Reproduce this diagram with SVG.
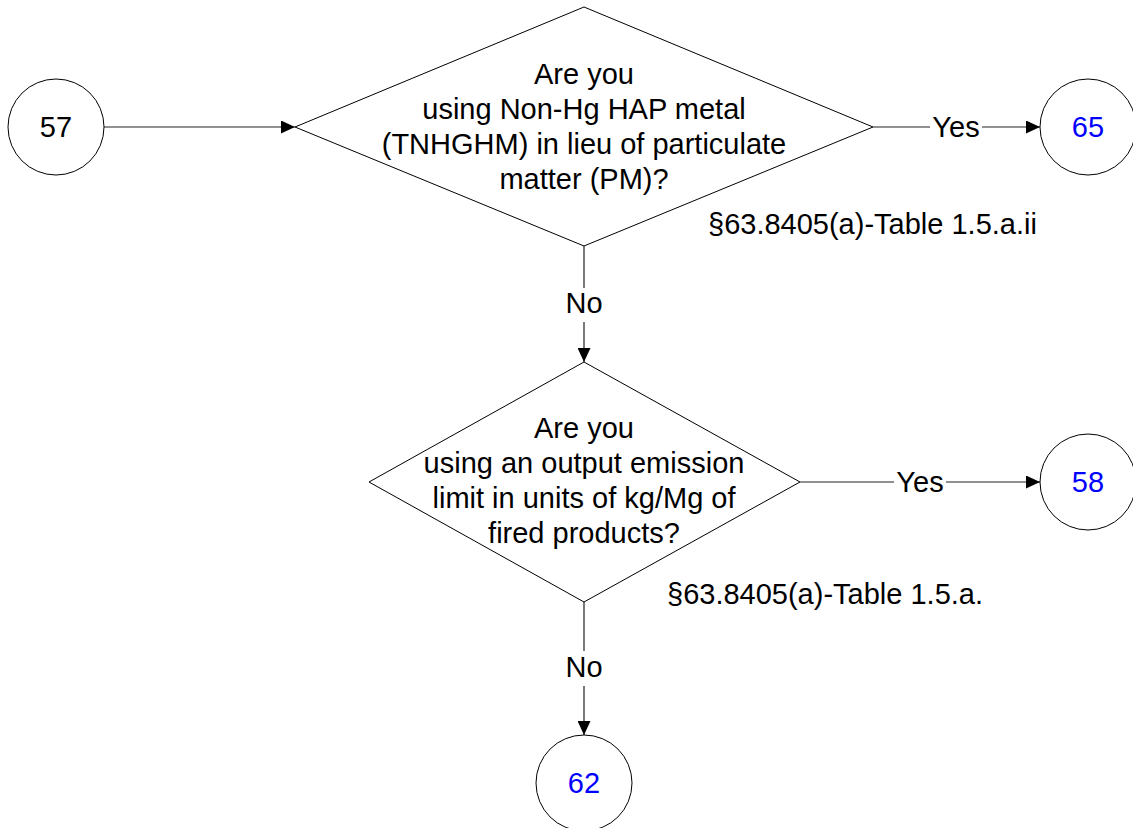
<svg xmlns="http://www.w3.org/2000/svg" width="1133" height="828" viewBox="0 0 1133 828">
<defs>
<style>
text{font-family:"Liberation Sans",Arial,sans-serif;font-size:29px;fill:#000;text-anchor:middle}
.blue{fill:#0000ff}
.shape{fill:#fff;stroke:#000;stroke-width:1}
.conn{stroke:#222;stroke-width:1.2;fill:none}
.lbl{fill:#fff;stroke:none}
.ref{text-anchor:start}
</style>
<marker id="arr" markerWidth="14" markerHeight="13" refX="14" refY="6.5" orient="auto" markerUnits="userSpaceOnUse">
<path d="M0,0 L14,6.5 L0,13 Z" fill="#000"/>
</marker>
</defs>
<rect width="1133" height="828" fill="#fff"/>
<g id="connectors">
<line class="conn" x1="104" y1="127" x2="295" y2="127" marker-end="url(#arr)"/>
<line class="conn" x1="873" y1="127" x2="1040" y2="127" marker-end="url(#arr)"/>
<rect class="lbl" x="930" y="112" width="52" height="30"/>
<text x="956" y="137">Yes</text>
<line class="conn" x1="584" y1="246" x2="584" y2="362" marker-end="url(#arr)"/>
<rect class="lbl" x="565" y="288" width="38" height="34"/>
<text x="584" y="313">No</text>
<line class="conn" x1="800" y1="482" x2="1040" y2="482" marker-end="url(#arr)"/>
<rect class="lbl" x="894" y="466" width="52" height="30"/>
<text x="920" y="492">Yes</text>
<line class="conn" x1="584" y1="602" x2="584" y2="735" marker-end="url(#arr)"/>
<rect class="lbl" x="565" y="651" width="38" height="35"/>
<text x="584" y="677">No</text>
</g>
<g id="n57">
<circle class="shape" cx="56" cy="127" r="48"/>
<text x="56" y="137">57</text>
</g>
<g id="d1">
<polygon class="shape" points="584,7 873,127 584,246 295,127"/>
<text x="584" y="84">Are you</text>
<text x="584" y="119">using Non-Hg HAP metal</text>
<text x="584" y="154">(TNHGHM) in lieu of particulate</text>
<text x="584" y="189">matter (PM)?</text>
</g>
<text class="ref" x="708" y="234">§63.8405(a)-Table 1.5.a.ii</text>
<g id="n65">
<circle class="shape" cx="1088" cy="127" r="48"/>
<text class="blue" x="1088" y="137">65</text>
</g>
<g id="d2">
<polygon class="shape" points="584,362 800,482 584,602 369,482"/>
<text x="584" y="438">Are you</text>
<text x="584" y="473">using an output emission</text>
<text x="584" y="508">limit in units of kg/Mg of</text>
<text x="584" y="543">fired products?</text>
</g>
<text class="ref" x="667" y="604">§63.8405(a)-Table 1.5.a.</text>
<g id="n58">
<circle class="shape" cx="1088" cy="482" r="48"/>
<text class="blue" x="1088" y="492">58</text>
</g>
<g id="n62">
<circle class="shape" cx="584" cy="783" r="48"/>
<text class="blue" x="584" y="793">62</text>
</g>
</svg>
